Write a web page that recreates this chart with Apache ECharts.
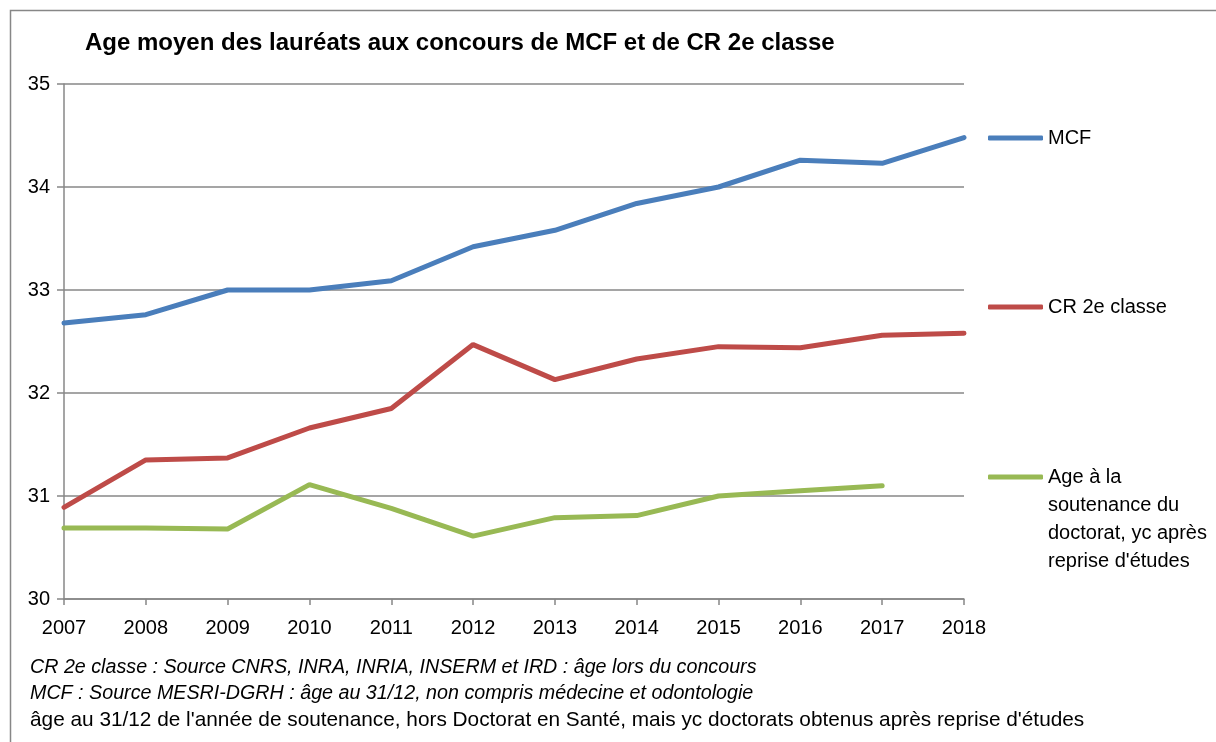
<!DOCTYPE html>
<html>
<head>
<meta charset="utf-8">
<script src="https://cdn.jsdelivr.net/npm/echarts@6/dist/echarts.min.js"></script>
<style>
  html, body { margin: 0; padding: 0; background: #fff; }
  #chart { width: 1216px; height: 742px; }
</style>
</head>
<body>
<div id="chart"></div>
<script>
var years = ['2007','2008','2009','2010','2011','2012','2013','2014','2015','2016','2017','2018'];
var mcf = [32.68, 32.76, 33.00, 33.00, 33.09, 33.42, 33.58, 33.84, 34.00, 34.26, 34.23, 34.48];
var cr2 = [30.89, 31.35, 31.37, 31.66, 31.85, 32.47, 32.13, 32.33, 32.45, 32.44, 32.56, 32.58];
var ageDoctorat = [30.69, 30.69, 30.68, 31.11, 30.88, 30.61, 30.79, 30.81, 31.00, 31.05, 31.10, null];
var notes = [
    "CR 2e classe : Source CNRS, INRA, INRIA, INSERM et IRD : âge lors du concours",
    "MCF : Source MESRI-DGRH : âge au 31/12, non compris médecine et odontologie",
    "âge au 31/12 de l'année de soutenance, hors Doctorat en Santé, mais yc doctorats obtenus après reprise d'études"
];

var nomMcf = 'MCF';
var nomCr = 'CR 2e classe';
var nomAge = "Age à la soutenance du doctorat, yc après reprise d'études";

var font = 'Liberation Sans, Arial, sans-serif';
var gris = '#878787';

// legende : une par serie, placees a droite comme dans Excel
function legende(nom, top, extra) {
    var l = {
        data: [nom],
        orient: 'vertical',
        left: 988,
        top: top,
        icon: 'roundRect',
        itemWidth: 55,
        itemHeight: 5,
        padding: 0,
        selectedMode: false,
        textStyle: { fontFamily: font, fontSize: 20, color: '#000', lineHeight: 28 }
    };
    if (extra) {
        // 3 lignes vides au-dessus pour que "Age a la" soit au niveau du trait
        l.formatter = function () { return '\n\n\nAge à la\nsoutenance du\ndoctorat, yc après\nreprise d\'études'; };
    }
    return l;
}

var option = {
    animation: false,
    backgroundColor: '#fff',
    title: {
        text: 'Age moyen des lauréats aux concours de MCF et de CR 2e classe',
        left: 85,
        top: 31,
        padding: 0,
        textStyle: { fontFamily: font, fontSize: 24, fontWeight: 'bold', color: '#000' }
    },
    legend: [
        legende(nomMcf, 124),
        legende(nomCr, 293),
        legende(nomAge, 379, true)
    ],
    grid: { left: 64, right: 252, top: 84, bottom: 143, containLabel: false },
    xAxis: {
        type: 'category',
        data: years,
        boundaryGap: false,
        axisLine: { lineStyle: { color: gris, width: 1.5 } },
        axisTick: { show: true, length: 6, lineStyle: { color: gris, width: 1.5 } },
        axisLabel: { fontFamily: font, fontSize: 20, color: '#000', margin: 19 }
    },
    yAxis: {
        type: 'value',
        min: 30,
        max: 35,
        interval: 1,
        axisLine: { show: true, lineStyle: { color: gris, width: 1.5 } },
        axisTick: { show: true, length: 7, lineStyle: { color: gris, width: 1.5 } },
        axisLabel: { fontFamily: font, fontSize: 20, color: '#000', margin: 14 },
        splitLine: { lineStyle: { color: gris, width: 1.6 } }
    },
    series: [
        {
            name: nomMcf, type: 'line', data: mcf, symbol: 'none',
            lineStyle: { color: '#4a7ebb', width: 5, cap: 'round' },
            itemStyle: { color: '#4a7ebb' }
        },
        {
            name: nomCr, type: 'line', data: cr2, symbol: 'none',
            lineStyle: { color: '#be4b48', width: 5, cap: 'round' },
            itemStyle: { color: '#be4b48' }
        },
        {
            name: nomAge, type: 'line', data: ageDoctorat, symbol: 'none',
            lineStyle: { color: '#98b954', width: 5, cap: 'round' },
            itemStyle: { color: '#98b954' }
        }
    ],
    graphic: [
        {
            type: 'rect', silent: true, z: -1,
            shape: { x: 10.5, y: 10.5, width: 1400, height: 900 },
            style: { fill: null, stroke: gris, lineWidth: 1.5 }
        },
        {
            type: 'text', left: 30, top: 658,
            style: { text: notes[0], font: 'italic 19.7px ' + font, fill: '#000' }
        },
        {
            type: 'text', left: 30, top: 684,
            style: { text: notes[1], font: 'italic 19.7px ' + font, fill: '#000' }
        },
        {
            type: 'text', left: 30, top: 710,
            style: { text: notes[2], font: '20.8px ' + font, fill: '#000' }
        }
    ]
};

var chart = echarts.init(document.getElementById('chart'));
chart.setOption(option);
</script>
</body>
</html>
